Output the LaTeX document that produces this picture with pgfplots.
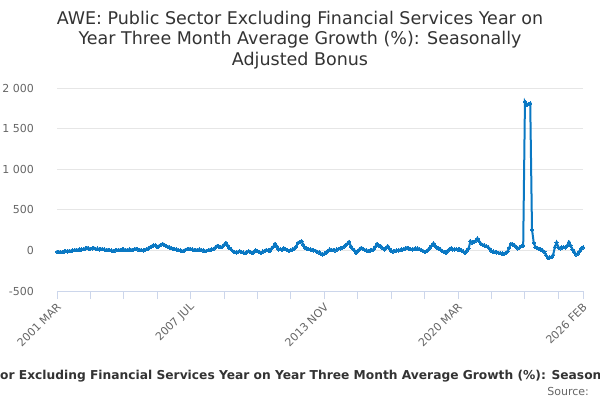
\documentclass[border=0pt]{standalone}
\usepackage{pgfplots}
\pgfplotsset{compat=1.18}
\usepackage{pgfplotstable}
\usepackage{fontspec}
\setmainfont{DejaVu Sans}
\definecolor{linec}{HTML}{0A78C3}
\definecolor{gridc}{HTML}{E6E6E6}
\definecolor{axisc}{HTML}{CCD6EB}
\definecolor{titlec}{HTML}{333333}
\definecolor{labc}{HTML}{666666}
\newlength\prew
\pgfplotstableread{
v
-16
-20
-18
-22
-15
-8
-12
-5
-8
0
3
8
5
12
10
15
22
33
25
20
25
28
18
22
12
18
15
10
5
8
2
-2
-4
0
5
2
8
12
10
6
4
10
8
8
15
20
12
8
3
0
8
15
25
40
53
60
65
40
55
70
82
70
53
45
38
30
20
15
12
5
0
-8
-5
8
15
20
18
10
6
4
8
12
5
0
-8
-4
2
8
12
20
35
53
48
42
45
70
94
60
30
12
-10
-20
-25
-18
-10
-22
-28
-35
-20
-8
-20
-35
-15
0
-10
-20
-29
-15
-5
8
0
-8
25
45
82
50
12
18
10
25
15
5
-8
5
12
25
50
94
105
114
70
33
25
15
12
8
0
-5
-16
-25
-40
-49
-40
-25
-10
12
8
5
0
10
20
25
33
45
65
80
106
53
20
0
-29
-10
15
33
20
5
-2
-8
0
5
12
45
82
60
53
30
12
30
53
20
-8
-12
-5
-2
0
5
10
18
25
33
25
15
12
18
22
25
15
5
-5
-16
-10
10
35
60
86
50
35
25
10
-8
-20
-29
-5
15
25
12
12
18
10
12
0
-15
-29
0
25
114
95
106
120
147
110
82
70
60
53
40
20
-8
-15
-20
-25
-29
-35
-38
-41
-30
-16
30
82
75
65
45
25
35
53
60
1832
1790
1805
1812
258
94
40
30
20
12
0
-16
-60
-90
-86
-82
-57
40
98
37
25
35
41
38
60
102
60
10
-20
-49
-41
-10
25
37
}\datatable
\begin{document}
\settowidth\prew{\fontsize{12.25bp}{14bp}\selectfont\bfseries AWE: Public Sect}%
\begin{tikzpicture}[x=1bp,y=1bp]
\useasboundingbox (0,0) rectangle (600,400);
\clip (0,0) rectangle (600,400);
\fill[white] (0,0) rectangle (600,400);
\begin{axis}[
  at={(57bp,109bp)}, anchor=south west,
  scale only axis, width=526bp, height=203bp,
  xmin=0, xmax=299, ymin=-500, ymax=2000,
  axis line style={draw=none},
  ytick={-500,0,500,1000,1500,2000},
  yticklabels={-500,0,500,1 000,1 500,2 000},
  xtick={0,76,152,228,299},
  minor xtick={19,38,57,95,114,133,171,190,209,247,266,285},
  xticklabels={2001 MAR,2007 JUL,2013 NOV,2020 MAR,2026 FEB},
  ymajorgrids, grid style={gridc, line width=1bp},
  tick align=outside,
  xtick pos=bottom,
  x tick style={axisc, line width=1bp},
  minor x tick style={axisc, line width=1bp},
  ytick style={draw=none},
  x tick label style={font=\fontsize{11bp}{13bp}\selectfont, text=labc, xshift=2bp, yshift=-6bp, rotate=45, anchor=east, inner sep=0pt},
  y tick label style={font=\fontsize{11bp}{13bp}\selectfont, text=labc, anchor=east, inner sep=0pt, xshift=-15bp},
  major tick length=8bp,
  minor tick length=8bp,
  clip=false,
]
\addplot[linec, line width=2bp, mark=*, mark size=1.7bp, mark options={fill=linec, draw=linec, line width=0bp}] table[x expr=\coordindex, y index=0] {\datatable};
\draw[axisc, line width=1bp] (rel axis cs:0,0) -- (rel axis cs:1,0);
\end{axis}
\node[text=titlec, font=\fontsize{17.5bp}{20.5bp}\selectfont, align=center, anchor=base] at (300,335) {AWE: Public Sector Excluding Financial Services Year on\\Year Three Month Average Growth (\%): Seasonally\\Adjusted Bonus};
\node[text=titlec, font=\fontsize{12.25bp}{14bp}\selectfont\bfseries, anchor=base west, inner sep=0pt, xshift=-\prew] at (0,21) {AWE: Public Sector Excluding Financial Services Year on Year Three Month Average Growth (\%): Seasonally Adjusted Bonus};
\node[text=labc, font=\fontsize{11bp}{13bp}\selectfont, anchor=base east, inner sep=0pt] at (589,5) {Source:};
\end{tikzpicture}
\end{document}
